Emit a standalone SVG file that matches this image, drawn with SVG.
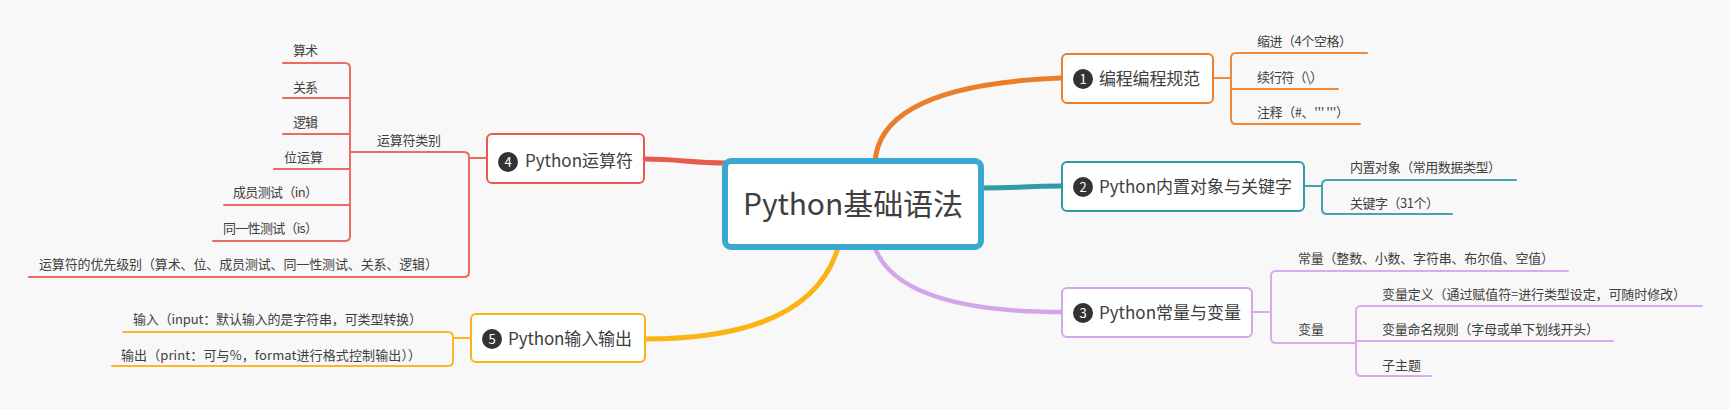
<svg xmlns="http://www.w3.org/2000/svg" width="1729" height="409" viewBox="0 0 1729 409">
<style>
text{font-family:"Noto Sans CJK SC","Noto Sans",sans-serif;fill:#404040}
.t{font-size:17px}
.s{font-size:13px}
.n{font-size:13px;fill:#fff;text-anchor:middle}
.box{fill:#fff;stroke-width:2}
.ln{fill:none;stroke-width:2;stroke-linecap:round}
.main{fill:none;stroke-linecap:round}
</style>
<rect width="1729" height="409" fill="#f8f8f8"/>
<g id="connectors">
<path class="main" d="M875,162 Q880,85 1061,78" stroke="#ea7e2a" stroke-width="5"/>
<path class="main" d="M983,188 C1020,188 1025,186 1061,186" stroke="#3299a5" stroke-width="5"/>
<path class="main" d="M875,248 Q900,312 1062,312" stroke="#d3a6ea" stroke-width="4.5"/>
<path class="main" d="M726,163 C690,163 680,159 644,159" stroke="#e9594d" stroke-width="5"/>
<path class="main" d="M838,248 Q810,339 645,339" stroke="#fbb416" stroke-width="5"/>
<g stroke="#ee8a3a" class="ln">
<path d="M1367,53 H1236 Q1231,53 1231,58 V119 Q1231,124 1236,124 H1360"/>
<path d="M1231,89 H1338"/><path d="M1213,78 H1231"/>
</g>
<g stroke="#47a3ae" class="ln">
<path d="M1516,180 H1327 Q1322,180 1322,185 V209 Q1322,214 1327,214 H1452"/>
<path d="M1304,186 H1322"/>
</g>
<g stroke="#d8acec" class="ln">
<path d="M1568,271 H1276 Q1271,271 1271,276 V338 Q1271,343 1276,343 H1356"/>
<path d="M1252,312 H1271"/>
<path d="M1702,306 H1361 Q1356,306 1356,311 V371 Q1356,376 1361,376 H1431"/>
<path d="M1356,341 H1613"/>
</g>
<g stroke="#ec6a5f" class="ln">
<path d="M350,152 H464 Q469,152 469,157 V272 Q469,277 464,277 H29"/>
<path d="M469,158 H487"/>
<path d="M283,63 H345 Q350,63 350,68 V236 Q350,241 345,241 H213"/>
<path d="M283,98 H350"/><path d="M283,134 H350"/><path d="M274,169 H350"/><path d="M224,205 H350"/>
</g>
<g stroke="#fbb62a" class="ln">
<path d="M123,332 H448 Q453,332 453,337 V361 Q453,366 448,366 H112"/>
<path d="M453,338 H470"/>
</g>
</g>
<g id="center">
<rect x="725" y="161" width="256" height="86" rx="6" fill="#fff" stroke="#3aa9d0" stroke-width="6"/>
<text x="743" y="215" font-size="30" textLength="220">Python基础语法</text>
</g>
<g id="node1">
<rect class="box" x="1062" y="54" width="151" height="49" rx="5" stroke="#ea7e2a"/>
<circle cx="1083" cy="79" r="10" fill="#333"/><text class="n" x="1083" y="84">1</text>
<text class="t" x="1099" y="85" textLength="101">编程编程规范</text>
</g>
<g id="node1-1"><text class="s" x="1257" y="46" textLength="95">缩进（4个空格）</text></g>
<g id="node1-2"><text class="s" x="1257" y="82" textLength="66">续行符（\）</text></g>
<g id="node1-3"><text class="s" x="1257" y="117" textLength="92">注释（#、'''  '''）</text></g>
<g id="node2">
<rect class="box" x="1062" y="162" width="242" height="49" rx="5" stroke="#3299a5"/>
<circle cx="1083" cy="187" r="10" fill="#333"/><text class="n" x="1083" y="192">2</text>
<text class="t" x="1099" y="193" textLength="193">Python内置对象与关键字</text>
</g>
<g id="node2-1"><text class="s" x="1350" y="172" textLength="151">内置对象（常用数据类型）</text></g>
<g id="node2-2"><text class="s" x="1350" y="208" textLength="89">关键字（31个）</text></g>
<g id="node3">
<rect class="box" x="1062" y="288" width="190" height="49" rx="5" stroke="#d3a6ea"/>
<circle cx="1083" cy="313" r="10" fill="#333"/><text class="n" x="1083" y="318">3</text>
<text class="t" x="1099" y="319" textLength="142">Python常量与变量</text>
</g>
<g id="node3-1"><text class="s" x="1298" y="263" textLength="256">常量（整数、小数、字符串、布尔值、空值）</text></g>
<g id="node3-2"><text class="s" x="1298" y="334" textLength="26">变量</text></g>
<g id="node3-2-1"><text class="s" x="1382" y="299" textLength="304">变量定义（通过赋值符=进行类型设定，可随时修改）</text></g>
<g id="node3-2-2"><text class="s" x="1382" y="334" textLength="217">变量命名规则（字母或单下划线开头）</text></g>
<g id="node3-2-3"><text class="s" x="1382" y="370" textLength="39">子主题</text></g>
<g id="node4">
<rect class="box" x="487" y="134" width="157" height="49" rx="5" stroke="#e9594d"/>
<circle cx="508" cy="162" r="10" fill="#333"/><text class="n" x="508" y="167">4</text>
<text class="t" x="525" y="167" textLength="108">Python运算符</text>
</g>
<g id="node4-1"><text class="s" x="377" y="145" textLength="64">运算符类别</text></g>
<g id="node4-1-1"><text class="s" x="293" y="55" textLength="25">算术</text></g>
<g id="node4-1-2"><text class="s" x="293" y="92" textLength="25">关系</text></g>
<g id="node4-1-3"><text class="s" x="293" y="127" textLength="25">逻辑</text></g>
<g id="node4-1-4"><text class="s" x="284" y="162" textLength="39">位运算</text></g>
<g id="node4-1-5"><text class="s" x="233" y="197" textLength="85">成员测试（in）</text></g>
<g id="node4-1-6"><text class="s" x="223" y="233" textLength="95">同一性测试（is）</text></g>
<g id="node4-2"><text class="s" x="39" y="269" textLength="399">运算符的优先级别（算术、位、成员测试、同一性测试、关系、逻辑）</text></g>
<g id="node5">
<rect class="box" x="471" y="314" width="174" height="48" rx="5" stroke="#fbb416"/>
<circle cx="492" cy="339" r="10" fill="#333"/><text class="n" x="492" y="344">5</text>
<text class="t" x="508" y="345" textLength="124">Python输入输出</text>
</g>
<g id="node5-1"><text class="s" x="133" y="324" textLength="289">输入（input：默认输入的是字符串，可类型转换）</text></g>
<g id="node5-2"><text class="s" x="121" y="360" textLength="300">输出（print：可与%，format进行格式控制输出））</text></g>
</svg>
